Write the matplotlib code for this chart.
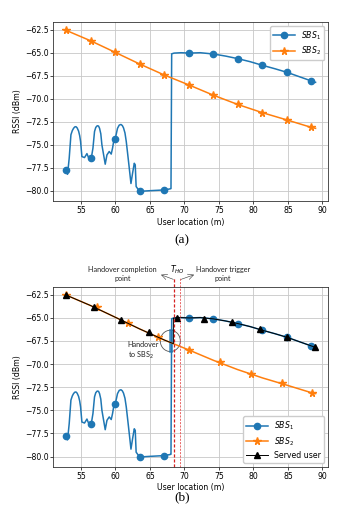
#!/usr/bin/env python3
# -*- coding: utf-8 -*-
"""RSSI vs user location for two SBS, (a) raw RSSI, (b) with served user / handover."""

import matplotlib
matplotlib.use("Agg")
import matplotlib.pyplot as plt
from matplotlib.lines import Line2D
from matplotlib.patches import Ellipse

# ---- data ----
# SBS1 RSSI curve (m, dBm)
sbs1_x = [52.83, 53.06, 53.3, 53.55, 53.75, 53.93, 54.1, 54.28, 54.45, 54.66,
          54.82, 54.95, 55.14, 55.52, 55.87, 56.1, 56.5, 56.74, 56.97, 57.15,
          57.36, 57.55, 57.7, 57.88, 58.04, 58.52, 58.77, 59.1, 59.39, 59.58,
          59.78, 59.97, 60.3, 60.55, 60.8, 61.0, 61.17, 61.38, 61.57, 61.9,
          62.25, 62.48, 62.73, 62.87, 63.0, 63.5, 65.04, 67.07, 67.94, 68.05,
          68.15, 68.5, 69.5, 70.7, 72.3, 74.2, 76.0, 77.7, 79.5, 81.3,
          83.1, 84.9, 86.7, 88.4, 89.0]
sbs1_y = [-77.8, -78.2, -76.45, -73.9, -73.45, -73.2, -73.05, -73.02, -73.15, -73.5,
          -74.0, -74.64, -76.27, -76.38, -75.95, -76.38, -76.45, -75.36, -73.55, -73.1,
          -72.92, -72.95, -73.2, -73.8, -75.0, -77.1, -76.09, -75.72, -76.0, -75.36,
          -74.46, -74.35, -73.2, -72.85, -72.78, -72.9, -73.15, -73.7, -74.64, -76.82,
          -79.2, -78.1, -77.0, -77.17, -79.53, -80.05, -79.98, -79.9, -79.78, -79.75,
          -65.1, -65.02, -64.98, -65.02, -64.98, -65.12, -65.35, -65.62, -65.95, -66.35,
          -66.72, -67.12, -67.6, -68.05, -68.2]
sbs1_mx = [52.83, 56.4, 59.97, 63.5, 67.07, 70.7, 74.2, 77.7, 81.3, 84.9, 88.4]
sbs1_my = [-77.75, -76.45, -74.35, -80.05, -79.9, -65.02, -65.12, -65.62, -66.35, -67.12, -68.05]

# SBS2 RSSI curve
sbs2_x = [52.83, 56.4, 59.97, 63.49, 67.07, 70.7, 74.2, 77.7, 81.3, 84.9, 88.4, 89.0]
sbs2_y = [-62.54, -63.68, -64.94, -66.2, -67.4, -68.5, -69.6, -70.6, -71.5, -72.3, -73.1, -73.2]
# star markers, panel (a) and panel (b)
sbs2_mx_a = [52.83, 56.4, 59.97, 63.49, 67.07, 70.7, 74.2, 77.7, 81.3, 84.9, 88.4]
sbs2_my_a = [-62.54, -63.68, -64.94, -66.2, -67.4, -68.5, -69.6, -70.6, -71.5, -72.3, -73.1]
sbs2_mx_b = [52.83, 57.3, 61.8, 66.2, 70.7, 75.1, 79.6, 84.1, 88.5]
sbs2_my_b = [-62.54, -63.86, -65.55, -67.1, -68.5, -69.76, -71.05, -72.1, -73.1]

# served user (follows SBS2, then hands over to SBS1)
served_x = [52.83, 56.4, 59.97, 63.49, 67.07, 68.4, 68.4, 68.5, 69.5, 70.7, 72.3,
            74.2, 76.0, 77.7, 79.5, 81.3, 83.1, 84.9, 86.7, 88.4, 89.0]
served_y = [-62.54, -63.68, -64.94, -66.2, -67.4, -67.8, -65.05, -65.02, -64.98, -65.02, -64.98,
            -65.12, -65.35, -65.62, -65.95, -66.35, -66.72, -67.12, -67.6, -68.05, -68.2]
served_mx = [52.83, 56.93, 60.8, 64.8, 68.9, 72.87, 76.88, 80.88, 84.86, 88.86]
served_my = [-62.57, -63.87, -65.27, -66.56, -65.01, -65.12, -65.45, -66.2, -67.1, -68.18]

# handover annotations
ho_complete_x = 68.5
ho_trigger_x = 69.4
ho_blip_x = [68.02, 68.02]
ho_blip_y = [-66.45, -68.6]

xticks = [55, 60, 65, 70, 75, 80, 85, 90]
yticks = [-80.0, -77.5, -75.0, -72.5, -70.0, -67.5, -65.0, -62.5]

BLUE = '#1f77b4'
ORANGE = '#ff7f0e'
FS = 5.6
LW = 1.1
MS = 4.5


def style_axes(ax):
    ax.set_xlim(51.0, 90.85)
    ax.set_ylim(-81.1, -61.65)
    ax.set_xticks(xticks)
    ax.set_yticks(yticks)
    ax.tick_params(labelsize=FS, length=2, width=0.5, pad=1.5)
    ax.grid(True, color='#c8c8c8', lw=0.6)
    ax.set_axisbelow(True)
    for s in ax.spines.values():
        s.set_linewidth(0.6)
        s.set_color('#333333')
    ax.set_xlabel('User location (m)', fontsize=FS, labelpad=2)
    ax.set_ylabel('RSSI (dBm)', fontsize=FS, labelpad=2)


def main():
    fig = plt.figure(figsize=(3.64, 5.2), dpi=100)

    # ---------- (a) ----------
    ax1 = fig.add_axes([0.1465, 0.6135, 0.7555, 0.344])
    ax1.plot(sbs1_x, sbs1_y, color=BLUE, lw=LW)
    ax1.plot(sbs1_mx, sbs1_my, 'o', color=BLUE, ms=MS)
    ax1.plot(sbs2_x, sbs2_y, color=ORANGE, lw=LW)
    ax1.plot(sbs2_mx_a, sbs2_my_a, '*', color=ORANGE, ms=MS + 1)
    style_axes(ax1)
    h_a = [Line2D([], [], color=BLUE, lw=LW, marker='o', ms=MS),
           Line2D([], [], color=ORANGE, lw=LW, marker='*', ms=MS + 1)]
    ax1.legend(h_a, ['$SBS_1$', '$SBS_2$'], loc='upper right', fontsize=FS,
               handlelength=2.8, borderpad=0.4, labelspacing=0.4, framealpha=1)
    fig.text(0.5, 0.538, '(a)', ha='center', va='center', fontsize=9.5,
             family='Liberation Serif')

    # ---------- (b) ----------
    ax2 = fig.add_axes([0.1465, 0.1025, 0.7555, 0.346])
    ax2.plot(sbs1_x, sbs1_y, color=BLUE, lw=LW)
    ax2.plot(sbs1_mx, sbs1_my, 'o', color=BLUE, ms=MS)
    ax2.plot(ho_blip_x, ho_blip_y, color=BLUE, lw=2.6, alpha=0.8)
    ax2.plot(sbs2_x, sbs2_y, color=ORANGE, lw=LW)
    ax2.plot(sbs2_mx_b, sbs2_my_b, '*', color=ORANGE, ms=MS + 1)
    ax2.plot(served_x, served_y, color='black', lw=0.7)
    ax2.plot(served_mx, served_my, '^', color='black', ms=MS)
    style_axes(ax2)

    # handover lines, extend a bit above the axes
    y_top = -60.7
    ax2.plot([ho_complete_x, ho_complete_x], [-81.1, y_top], color='#d62020',
             ls='--', lw=0.9, dashes=(2.5, 1.5), clip_on=False)
    ax2.plot([ho_trigger_x, ho_trigger_x], [-81.1, y_top], color='#e85050',
             ls='--', lw=0.6, dashes=(2.5, 1.5), clip_on=False)

    ax2.add_patch(Ellipse((67.95, -67.5), 2.9, 2.3, fill=False,
                          edgecolor='#555555', lw=0.6))
    ann_font = dict(fontsize=5.2, family=['Lato', 'DejaVu Sans'], color='#222222')
    ax2.text(61.8, -68.6, 'Handover\nto SBS$_2$', ha='left', va='center',
             linespacing=1.2, **ann_font)
    ax2.text(61.0, -60.3, 'Handover completion\npoint', ha='center', va='center',
             linespacing=1.3, clip_on=False, **ann_font)
    ax2.text(75.6, -60.3, 'Handover trigger\npoint', ha='center', va='center',
             linespacing=1.3, clip_on=False, **ann_font)
    ax2.text(68.95, -59.85, '$T_{HO}$', ha='center', va='center',
             fontsize=5.6, clip_on=False)
    arrow = dict(arrowstyle='->', lw=0.4, color='#333333', shrinkA=0, shrinkB=0)
    ax2.annotate('', xy=(66.6, -60.35), xytext=(68.4, -60.85),
                 arrowprops=arrow, annotation_clip=False)
    ax2.annotate('', xy=(71.4, -60.35), xytext=(69.5, -60.85),
                 arrowprops=arrow, annotation_clip=False)

    h_b = [Line2D([], [], color=BLUE, lw=LW, marker='o', ms=MS),
           Line2D([], [], color=ORANGE, lw=LW, marker='*', ms=MS + 1),
           Line2D([], [], color='black', lw=0.7, marker='^', ms=MS)]
    ax2.legend(h_b, ['$SBS_1$', '$SBS_2$', 'Served user'], loc='lower right',
               fontsize=FS, handlelength=2.8, borderpad=0.4, labelspacing=0.4,
               framealpha=1)
    fig.text(0.5, 0.044, '(b)', ha='center', va='center', fontsize=9.5,
             family='Liberation Serif')

    fig.savefig('out.png', dpi=100)


if __name__ == "__main__":
    main()
